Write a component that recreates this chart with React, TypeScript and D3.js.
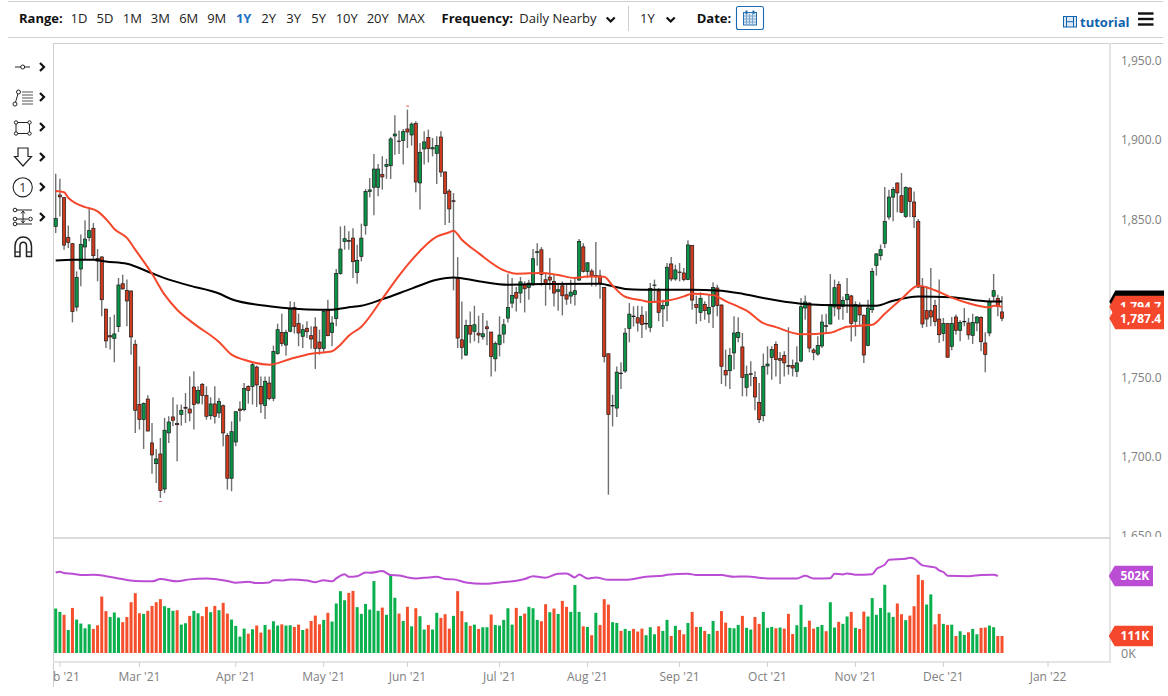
import React from "react";
import { scaleLinear, line, curveMonotoneX, format, max, min } from "d3";

const rangeLabels = ["1D", "5D", "1M", "3M", "6M", "9M", "1Y", "2Y", "3Y", "5Y", "10Y", "20Y", "MAX"];
const priceTicks = [1950, 1900, 1850, 1800, 1750, 1700, 1650];
const monthLabels = ["Feb '21", "Mar '21", "Apr '21", "May '21", "Jun '21", "Jul '21", "Aug '21", "Sep '21", "Oct '21", "Nov '21", "Dec '21", "Jan '22"];
const monthIndex = [1, 20, 43, 64, 84, 106, 127, 149, 170, 191, 212, 237];

const opens = [
  1845.4,1865.2,1863.5,1838.5,1834.5,1794.5,1818.5,1832.4,1838.3,1844.2,
  1825.2,1826.1,1793.2,1776.4,1774.7,1782.1,1809.2,1805.0,1804.6,1771.0,
  1732.9,1723.4,1736.4,1708.7,1695.6,1701.7,1679.6,1715.0,1725.1,1720.9,
  1726.6,1731.2,1730.1,1744.0,1733.9,1745.7,1738.6,1725.9,1733.3,1727.6,
  1732.2,1713.3,1686.4,1709.3,1730.1,1729.7,1744.4,1744.4,1756.6,1744.4,
  1732.4,1746.5,1736.9,1765.1,1778.5,1770.5,1779.2,1794.3,1784.0,1776.0,
  1781.1,1776.4,1781.9,1772.4,1768.4,1792.8,1778.5,1787.2,1815.6,1835.8,
  1836.4,1838.0,1816.3,1826.4,1845.9,1867.5,1870.1,1870.1,1878.1,1883.3,
  1883.7,1902.5,1899.3,1899.7,1906.9,1903.1,1910.3,1872.8,1894.3,1901.6,
  1894.3,1891.5,1901.8,1879.7,1867.7,1861.6,1812.3,1773.8,1764.2,1782.9,
  1779.1,1778.0,1775.7,1782.0,1778.7,1761.8,1770.9,1777.4,1787.5,1797.0,
  1803.7,1803.3,1808.5,1806.9,1808.5,1829.0,1830.6,1811.7,1813.4,1810.7,
  1804.3,1807.9,1802.2,1801.4,1802.4,1811.5,1832.5,1817.0,1817.2,1814.4,
  1814.2,1806.9,1765.0,1732.0,1730.7,1752.8,1754.1,1781.0,1788.8,1787.7,
  1789.3,1783.8,1781.7,1808.0,1804.6,1793.3,1795.4,1821.7,1812.2,1816.6,
  1816.0,1811.8,1833.4,1796.0,1791.1,1796.2,1790.1,1794.9,1806.5,1795.8,
  1754.5,1754.3,1765.5,1775.2,1769.3,1743.8,1752.4,1750.1,1734.3,1725.9,
  1757.3,1762.7,1770.9,1761.9,1764.0,1757.5,1757.5,1753.9,1760.4,1793.9,
  1797.0,1767.4,1764.8,1769.9,1782.7,1783.8,1794.5,1808.8,1794.9,1799.1,
  1801.5,1785.5,1795.1,1789.3,1770.3,1792.8,1820.8,1826.9,1834.7,1851.3,
  1863.9,1872.8,1864.8,1851.7,1869.6,1860.8,1848.4,1806.9,1792.2,1792.2,
  1795.4,1786.9,1777.7,1784.0,1769.7,1788.2,1779.8,1785.1,1784.4,1776.6,
  1784.4,1787.8,1771.8,1778.1,1801.3,1800.0,1791.4,
];
const closes = [
  1850.3,1864.0,1833.6,1835.3,1791.6,1813.2,1834.1,1837.4,1842.7,1826.9,
  1823.5,1799.1,1773.1,1775.6,1777.5,1808.4,1805.9,1798.3,1775.6,1729.3,
  1723.4,1733.5,1716.2,1701.1,1698.6,1678.6,1716.7,1721.9,1723.0,1720.2,
  1729.3,1730.6,1727.6,1732.9,1741.7,1738.6,1725.5,1733.3,1725.5,1734.8,
  1715.0,1686.4,1715.8,1728.4,1729.1,1743.0,1741.9,1758.1,1745.3,1733.3,
  1747.6,1736.7,1766.5,1780.2,1771.4,1778.5,1793.2,1782.3,1778.1,1780.2,
  1778.9,1774.3,1768.4,1768.4,1791.8,1776.4,1784.4,1815.6,1831.1,1837.6,
  1836.0,1823.1,1823.9,1838.0,1867.5,1868.4,1881.6,1881.6,1876.6,1884.4,
  1900.6,1903.7,1898.9,1905.2,1905.0,1910.0,1873.4,1892.2,1898.7,1894.5,
  1895.1,1896.4,1879.7,1866.1,1856.4,1861.2,1774.9,1769.0,1782.9,1777.4,
  1783.3,1776.8,1777.6,1780.8,1763.3,1771.5,1776.8,1783.3,1794.2,1801.8,
  1800.1,1810.4,1806.0,1809.6,1825.0,1829.4,1815.1,1809.6,1811.5,1803.3,
  1805.4,1801.6,1799.5,1803.9,1804.8,1835.9,1817.0,1822.4,1814.2,1814.0,
  1809.6,1763.3,1726.7,1732.4,1753.4,1752.4,1778.0,1790.0,1788.4,1784.4,
  1783.4,1784.2,1806.3,1808.4,1791.1,1795.4,1819.6,1812.2,1817.9,1816.2,
  1811.8,1833.7,1798.9,1794.1,1800.0,1792.2,1794.3,1806.9,1795.4,1757.1,
  1751.6,1763.8,1778.1,1778.5,1750.1,1751.8,1752.0,1737.7,1723.4,1757.1,
  1758.5,1767.6,1761.3,1760.9,1759.2,1757.0,1756.0,1759.2,1794.7,1797.7,
  1768.6,1765.7,1770.3,1785.0,1782.3,1796.0,1806.7,1793.3,1798.7,1802.5,
  1784.2,1796.0,1789.5,1764.2,1793.9,1817.0,1828.0,1830.7,1848.4,1863.9,
  1868.6,1866.5,1854.3,1870.0,1861.2,1851.5,1807.1,1783.8,1786.9,1788.2,
  1785.3,1777.0,1784.0,1762.8,1784.0,1779.8,1784.8,1785.5,1776.9,1784.8,
  1788.2,1772.6,1764.6,1798.1,1804.8,1794.9,1787.4,
];
const highs = [
  1878.7,1875.5,1863.9,1845.9,1834.9,1817.0,1840.2,1849.2,1856.4,1847.5,
  1831.1,1826.5,1793.2,1788.2,1789.7,1812.8,1814.9,1811.8,1805.0,1773.9,
  1757.1,1734.3,1738.8,1721.3,1704.9,1711.8,1724.5,1725.5,1737.5,1732.9,
  1732.9,1740.2,1750.7,1753.9,1744.4,1746.5,1744.4,1737.5,1744.4,1737.1,
  1732.9,1715.0,1722.3,1728.7,1735.0,1746.5,1745.1,1759.2,1757.5,1750.7,
  1750.7,1750.7,1770.1,1784.0,1790.3,1780.2,1798.1,1797.7,1790.3,1783.4,
  1785.5,1782.3,1788.0,1780.2,1793.2,1799.1,1788.6,1818.5,1845.4,1845.9,
  1842.3,1844.3,1833.8,1847.1,1869.0,1876.0,1891.1,1884.8,1889.6,1888.0,
  1901.8,1915.5,1906.0,1906.9,1919.1,1911.1,1911.7,1898.0,1905.4,1906.5,
  1901.2,1902.3,1905.4,1880.2,1869.0,1866.5,1826.0,1798.0,1786.5,1791.7,
  1795.3,1789.0,1790.7,1786.0,1778.7,1772.8,1788.6,1786.9,1815.5,1812.8,
  1807.1,1813.4,1810.7,1811.7,1831.1,1834.8,1832.3,1815.9,1825.4,1814.9,
  1809.2,1810.7,1808.5,1811.7,1812.8,1837.4,1834.8,1822.9,1818.6,1835.5,
  1818.0,1806.9,1765.0,1739.1,1757.0,1759.7,1781.2,1797.0,1794.9,1795.3,
  1795.0,1791.8,1809.7,1811.8,1806.5,1799.1,1822.3,1826.1,1821.2,1822.3,
  1819.1,1836.6,1833.4,1801.7,1803.8,1798.1,1802.3,1810.1,1808.6,1796.0,
  1767.6,1768.6,1788.6,1788.0,1778.1,1757.5,1760.2,1753.9,1746.5,1765.1,
  1769.7,1769.7,1772.8,1765.9,1766.5,1781.7,1761.3,1769.7,1800.2,1801.7,
  1797.5,1768.6,1776.0,1789.7,1790.3,1815.3,1811.8,1810.7,1801.2,1812.8,
  1802.3,1798.1,1797.5,1789.7,1799.1,1819.1,1828.6,1833.9,1870.3,1868.6,
  1870.3,1873.2,1879.1,1870.7,1870.3,1867.5,1850.1,1812.8,1807.6,1819.1,
  1799.1,1811.8,1787.6,1784.4,1788.2,1789.7,1786.1,1793.9,1787.6,1790.3,
  1788.6,1788.6,1778.5,1800.2,1815.4,1802.3,1801.3,
];
const lows = [
  1841.2,1851.7,1830.7,1831.8,1784.8,1791.8,1807.6,1824.4,1836.0,1824.8,
  1810.7,1788.6,1768.6,1767.6,1759.6,1778.7,1805.5,1782.3,1764.4,1715.0,
  1717.1,1704.9,1716.0,1689.3,1683.4,1673.9,1677.1,1708.7,1719.2,1697.1,
  1719.6,1721.3,1722.3,1717.1,1732.9,1732.9,1723.4,1723.4,1720.9,1724.5,
  1706.6,1679.2,1678.2,1706.6,1722.3,1728.7,1733.5,1732.9,1731.4,1727.6,
  1723.8,1735.6,1735.0,1764.4,1769.7,1763.8,1778.5,1777.7,1769.7,1768.6,
  1775.0,1768.2,1755.4,1764.4,1765.5,1776.0,1769.7,1782.3,1814.9,1830.7,
  1830.7,1812.8,1809.2,1823.3,1840.2,1863.8,1852.4,1864.4,1868.6,1875.5,
  1875.3,1890.7,1891.1,1884.4,1894.9,1896.4,1866.9,1856.0,1884.4,1885.8,
  1889.6,1872.2,1876.6,1846.3,1847.6,1805.0,1768.6,1761.6,1763.7,1771.7,
  1772.8,1771.7,1773.8,1770.3,1750.7,1753.8,1763.3,1771.7,1784.8,1793.8,
  1791.7,1797.0,1791.1,1799.1,1807.9,1820.5,1807.9,1795.3,1805.4,1794.9,
  1792.1,1789.2,1795.9,1796.6,1795.5,1811.1,1816.3,1812.8,1807.5,1807.5,
  1799.7,1759.5,1676.0,1719.1,1725.0,1742.7,1752.8,1772.2,1782.2,1779.1,
  1775.0,1780.2,1778.5,1797.0,1785.5,1781.9,1785.5,1810.7,1811.1,1810.7,
  1810.7,1811.4,1792.8,1783.8,1785.5,1786.5,1784.4,1781.3,1788.6,1745.9,
  1744.4,1742.8,1755.0,1772.2,1738.1,1738.1,1744.4,1729.3,1721.3,1722.3,
  1751.8,1748.6,1750.7,1745.9,1750.7,1751.8,1750.7,1750.3,1759.6,1786.5,
  1765.9,1760.9,1763.8,1768.6,1778.1,1783.4,1788.6,1786.5,1786.5,1790.7,
  1772.8,1776.0,1782.7,1759.2,1769.7,1790.7,1814.3,1824.0,1831.8,1849.6,
  1848.6,1854.3,1853.8,1850.7,1851.3,1844.4,1806.5,1781.3,1781.9,1782.3,
  1782.3,1771.8,1772.9,1762.3,1767.2,1777.1,1772.9,1782.3,1773.9,1771.2,
  1779.2,1766.5,1753.3,1776.0,1798.1,1788.6,1785.5,
];

// volume in thousands, read bar by bar
const volumes = [
  290,268,249,150,294,218,192,161,187,157,181,368,273,235,264,231,201,235,331,390,
  259,255,275,307,331,351,305,294,275,279,185,194,242,275,259,240,301,266,307,279,
  327,257,218,177,107,159,126,155,179,133,183,153,207,179,187,179,181,170,185,150,
  159,209,244,187,216,262,205,323,403,344,392,405,299,255,320,283,469,275,296,249,
  510,360,257,
  209,301,174,292,240,153,183,153,262,229,253,159,242,403,273,201,177,185,157,168,
  168,251,183,179,216,292,185,294,242,257,301,292,216,207,318,266,290,255,340,301,
  268,443,268,174,170,116,262,183,351,316,201,196,144,157,144,157,140,159,116,168,
  122,174,144,216,111,177,150,122,196,268,170,170,144,124,209,144,273,198,164,161,
  183,242,164,153,235,190,268,164,170,161,166,159,255,124,181,
  314,170,211,159,170,183,142,331,166,203,190,238,268,164,157,270,238,358,249,294,
  445,264,235,323,253,214,244,305,510,475,316,382,187,255,190,183,185,111,142,118,
  135,157,122,164,166,179,168,111,111,
];
// 1 = green bar, 0 = red bar
const volumeUp = [
  1,1,0,1,0,1,1,1,1,0,0,0,0,1,1,1,0,0,0,0,
  0,1,0,0,0,0,1,1,1,0,1,1,0,1,1,0,0,1,0,1,
  0,0,1,1,1,1,0,1,0,0,1,0,1,1,0,1,1,0,0,1,
  0,0,0,0,1,0,1,1,1,1,0,0,1,1,1,1,1,1,0,1,
  1,1,0,
  1,0,1,0,1,1,0,1,1,0,0,0,1,0,0,1,0,1,0,1,
  1,0,1,1,1,1,1,0,1,0,1,1,1,0,0,1,0,1,0,0,
  1,1,1,0,1,0,1,0,0,0,1,1,0,1,1,0,0,0,1,1,
  1,0,1,1,0,1,0,0,1,0,0,1,0,1,1,0,0,0,1,1,
  1,0,1,1,0,0,1,1,1,0,1,0,0,0,1,
  1,1,0,0,1,1,0,1,1,0,1,1,0,1,0,0,1,1,1,1,
  1,1,1,0,0,1,0,0,0,0,1,1,0,0,1,0,1,0,1,1,
  0,1,1,0,0,1,1,0,0,
];

const redMaIndex = [0,2,3,5,7,10,12,14,17,19,23,26,29,33,39,42,45,51,56,61,66,68,70,73,78,82,85,91,94,95,97,101,107,110,116,120,124,127,131,133,136,140,142,146,150,152,157,160,163,165,169,172,178,185,189,195,198,202,206,210,214,218,223,224,226];
const redMa = [1867.7,1866.9,1863.5,1859.7,1857.6,1854.9,1850.1,1843.8,1838.1,1830.7,1815.5,1802.3,1792.8,1784,1772.4,1764.4,1761.2,1758.1,1761.7,1765,1766.6,1770.7,1776.4,1782.1,1799.7,1814.3,1824.1,1838.9,1841.7,1842.7,1837,1828.5,1817.7,1815.5,1816,1814.7,1812.8,1813.8,1813.6,1808,1801,1798.7,1797.7,1798.5,1801.2,1802.9,1802,1798.2,1794.7,1792.2,1784.3,1781.8,1777.3,1778.3,1782.1,1783.3,1790.3,1799.6,1808,1805.1,1800.4,1796.9,1794.3,1795.3,1794.7];
const blackMaIndex = [0,4,9,12,17,23,26,32,39,42,51,63,66,70,73,78,85,91,95,101,108,116,130,133,136,140,152,158,164,169,178,183,196,200,206,214,223,226];
const blackMa = [1823.9,1824.4,1824.4,1823.2,1821.8,1815.8,1812.7,1808,1803,1799.4,1795,1792.8,1792.8,1794.3,1795.3,1799.4,1806.1,1811.7,1813.2,1810.8,1808.6,1809,1809.2,1807.6,1805.9,1805.4,1805.4,1805,1802.9,1800.2,1796.6,1795.8,1795.3,1798.5,1801.2,1800.6,1798,1798];
const volumeMaIndex = [0,1,2,4,6,9,12,15,19,23,25,29,32,36,41,43,46,48,51,52,54,56,60,62,64,66,67,69,70,72,74,75,78,80,82,84,86,89,91,93,95,98,102,106,110,112,114,117,120,122,124,125,127,129,132,136,141,145,146,151,153,159,162,165,170,177,179,181,185,186,188,189,191,195,196,198,199,203,204,205,207,210,211,212,213,218,221,224,225];
const volumeMa = [525,530,521,517,508,510,501,486,469,467,482,467,480,486,469,458,464,456,460,475,473,480,473,462,475,467,486,514,497,501,525,523,534,508,506,493,486,493,497,482,480,460,451,460,471,482,501,491,517,519,493,512,486,493,477,477,497,504,510,517,508,508,497,499,486,486,504,486,488,517,512,519,510,514,547,576,608,615,621,615,571,558,538,528,504,501,508,510,502];

const lastPrice = 1787.4;
const lastRedMa = 1794.7;
const lastBlackMa = 1798;
const lastVolume = 111;
const lastVolumeMa = 502;

const FONT = "'Open Sans', sans-serif";
const GREEN = "#0b9447";
const RED = "#cf3a1d";
const VOL_GREEN = "#0bb04e";
const VOL_RED = "#f5502e";
const LINE_RED = "#f4472b";
const PURPLE = "#bb4dd4";
const BLUE = "#0f63ad";
const GRID = "#cfcfcf";
const AXIS = "#e4e4e4";
const EDGE = 1163;

const xScale = scaleLinear().domain([0, 226]).range([55.7, 1002]);
const yScale = scaleLinear().domain([1650, 1950]).range([535.9, 60.7]);
const volScale = scaleLinear().domain([0, 502]).range([653, 576]);
const priceFmt = format(",.1f");

const maPath = (idx: number[], vals: number[], y: (v: number) => number) =>
  line<number>()
    .x((_, i) => xScale(idx[i]))
    .y((d) => y(d))
    .curve(curveMonotoneX)(vals) as string;

const Tag = ({ y, color, left, right, h, label }: any) => (
  <g>
    <polygon
      points={`${left},${y} ${left + 6},${y - h / 2} ${right},${y - h / 2} ${right},${y + h / 2} ${left + 6},${y + h / 2}`}
      fill={color}
    />
    {label && (
      <text x={(left + 6 + right) / 2 + 1} y={y + 4.3} fill="#fff" fontSize={12} fontWeight={700} textAnchor="middle">
        {label}
      </text>
    )}
  </g>
);

const Chevron = ({ x, y }: { x: number; y: number }) => (
  <path d={`M${x - 4},${y - 2.5} L${x},${y + 1.5} L${x + 4},${y - 2.5}`} fill="none" stroke="#111" strokeWidth={2.2} />
);

const Side = ({ y }: { y: number }) => (
  <path d={`M40,${y - 4} L44,${y} L40,${y + 4}`} fill="none" stroke="#111" strokeWidth={2.2} />
);

const Tools = () => {
  const s = { fill: "none", stroke: "#222", strokeWidth: 1 };
  return (
    <g>
      <line x1={15} x2={30} y1={67} y2={67} {...s} />
      <circle cx={22.7} cy={67} r={2} fill="#fff" stroke="#222" />
      <Side y={67} />

      <line x1={15} y1={104} x2={18.5} y2={92} {...s} />
      <circle cx={18.5} cy={92} r={2} fill="#fff" stroke="#222" />
      <circle cx={15} cy={104} r={2} fill="#fff" stroke="#222" />
      {[92, 95, 98, 101, 104].map((y) => (
        <line key={y} x1={22} x2={33} y1={y} y2={y} stroke="#555" />
      ))}
      <Side y={97} />

      <rect x={16} y={122.5} width={13.5} height={11} {...s} />
      {[[16, 122.5], [29.5, 122.5], [16, 133.5], [29.5, 133.5]].map(([cx, cy]) => (
        <circle key={`${cx}${cy}`} cx={cx} cy={cy} r={1.7} fill="#fff" stroke="#222" />
      ))}
      <Side y={127} />

      <path d="M18,148 L28,148 L28,156.5 L31.5,156.5 L23,166 L14.5,156.5 L18,156.5 Z" fill="#fff" stroke="#222" strokeWidth={1.2} />
      <Side y={157} />

      <circle cx={22.7} cy={187.3} r={9.6} fill="#fff" stroke="#222" strokeWidth={1.1} />
      <text x={22.7} y={192} textAnchor="middle" fontSize={13} fill="#333" fontFamily={FONT}>1</text>
      <Side y={187} />

      <line x1={16} x2={32} y1={210} y2={210} {...s} />
      <line x1={16} x2={28} y1={219} y2={219} {...s} />
      <line x1={13} x2={32} y1={224} y2={224} {...s} />
      <line x1={23} x2={23} y1={212} y2={222} stroke="#222" />
      <path d="M21,213.5 L23,211 L25,213.5 M21,220.5 L23,223 L25,220.5" {...s} />
      {[[15, 210], [15, 219], [15, 224], [30.5, 219]].map(([cx, cy]) => (
        <circle key={`${cx}${cy}`} cx={cx} cy={cy} r={1.8} fill="#fff" stroke="#222" />
      ))}
      <Side y={217} />

      <path
        d="M15,256.5 L15,246 C15,234 31.5,234 31.5,246 L31.5,256.5 L26.5,256.5 L26.5,246 C26.5,241 20,241 20,246 L20,256.5 Z"
        fill="#fff"
        stroke="#222"
        strokeWidth={1.5}
      />
      <line x1={15} x2={20} y1={252} y2={252} stroke="#222" strokeWidth={1.2} />
      <line x1={26.5} x2={31.5} y1={252} y2={252} stroke="#222" strokeWidth={1.2} />
    </g>
  );
};

const Toolbar = () => {
  const centers = [79, 105, 132.3, 160.3, 188.7, 216.7, 243.7, 268.7, 293.7, 318.7, 346.7, 377.7, 411];
  return (
    <g fontFamily={FONT} fontSize={13} fill="#222">
      <text x={19} y={22.5} fontWeight={700} fill="#111">Range:</text>
      {rangeLabels.map((d, i) => (
        <text
          key={d}
          x={centers[i]}
          y={22.5}
          textAnchor="middle"
          fill={d === "1Y" ? "#1e72c4" : "#222"}
          fontWeight={d === "1Y" ? 700 : 400}
        >
          {d}
        </text>
      ))}
      <text x={441.5} y={22.5} fontWeight={700} fill="#111">Frequency:</text>
      <text x={519.3} y={22.5}>Daily Nearby</text>
      <Chevron x={610.7} y={20} />
      <line x1={628.5} x2={628.5} y1={6} y2={31} stroke={GRID} />
      <text x={640} y={22.5}>1Y</text>
      <Chevron x={670.7} y={20} />
      <text x={696.7} y={22.5} fontWeight={700} fill="#111">Date:</text>
      <rect x={736.5} y={6.5} width={27} height={23} rx={2} fill="#fff" stroke="#1a69b3" strokeWidth={1.1} />
      <rect x={743.5} y={12.5} width={13} height={12.5} fill="#dbe8f4" stroke="#2a6fb0" />
      {[746.5, 749.5, 752.5].map((x) => (
        <line key={x} x1={x} x2={x} y1={14} y2={25} stroke="#7ba6cf" />
      ))}
      {[16, 19, 22].map((y) => (
        <line key={y} x1={744} x2={756} y1={y} y2={y} stroke="#7ba6cf" />
      ))}
      <rect x={745.5} y={10.5} width={2} height={3.5} fill="#2a6fb0" />
      <rect x={752.5} y={10.5} width={2} height={3.5} fill="#2a6fb0" />

      <rect x={1063.5} y={16.5} width={13} height={10.5} fill="#dceaf6" stroke={BLUE} />
      <line x1={1066.5} x2={1066.5} y1={16.5} y2={27} stroke={BLUE} />
      <line x1={1073.5} x2={1073.5} y1={16.5} y2={27} stroke={BLUE} />
      <line x1={1066.5} x2={1073.5} y1={21.7} y2={21.7} stroke={BLUE} />
      <text x={1080} y={27} fontWeight={700} fill={BLUE}>tutorial</text>
      {[13.5, 19, 24.5].map((y) => (
        <rect key={y} x={1138} y={y - 1.2} width={15.5} height={2.4} fill="#111" />
      ))}
    </g>
  );
};

const App = () => {
  const hiIdx = highs.indexOf(max(highs) as number);
  const loIdx = lows.indexOf(min(lows) as number);

  return (
    <svg
      width={1168}
      height={696}
      style={{ position: "absolute", left: 0, top: 0, background: "#fff", fontFamily: FONT }}
    >
      <defs>
        <clipPath id="axisClip">
          <rect x={1112} y={44} width={56} height={493} />
        </clipPath>
        <clipPath id="monthClip">
          <rect x={53} y={664} width={1060} height={30} />
        </clipPath>
      </defs>

      {/* frame */}
      <line x1={8} x2={EDGE} y1={1.5} y2={1.5} stroke={GRID} />
      <line x1={8} x2={EDGE} y1={37.5} y2={37.5} stroke={GRID} />
      <line x1={53} x2={EDGE} y1={43.5} y2={43.5} stroke={GRID} />
      <line x1={53.5} x2={53.5} y1={43} y2={687} stroke={GRID} />
      <line x1={1110} x2={1110} y1={43} y2={663} stroke={AXIS} strokeWidth={2} />
      <line x1={53} x2={1110} y1={538} y2={538} stroke={GRID} strokeWidth={1.5} />
      <line x1={53} x2={1110} y1={662} y2={662} stroke={AXIS} strokeWidth={2} />

      <Toolbar />
      <Tools />

      {/* price axis */}
      <g clipPath="url(#axisClip)">
        {priceTicks.map((d) => (
          <text key={d} x={1121} y={yScale(d) + 4.5} fontSize={12} fill="#808080">
            {priceFmt(d)}
          </text>
        ))}
      </g>

      {/* month axis */}
      {monthIndex.map((d) => (
        <line key={d} x1={xScale(d)} x2={xScale(d)} y1={662} y2={667} stroke={GRID} />
      ))}
      <g clipPath="url(#monthClip)">
        {monthLabels.map((d, i) => (
          <text key={d} x={xScale(monthIndex[i])} y={681} fontSize={12} fill="#808080" textAnchor="middle">
            {d}
          </text>
        ))}
      </g>

      {/* candles */}
      <g>
        {opens.map((o, i) => {
          const c = closes[i];
          const x = xScale(i);
          const top = yScale(Math.max(o, c));
          const bot = yScale(Math.min(o, c));
          return (
            <g key={i}>
              <line x1={x} x2={x} y1={yScale(highs[i])} y2={yScale(lows[i])} stroke="#707070" strokeWidth={1.4} />
              <rect
                x={x - 1.6}
                y={top}
                width={3.2}
                height={Math.max(bot - top, 0.6)}
                fill={c >= o ? GREEN : RED}
                stroke="#1a1a1a"
                strokeWidth={0.7}
              />
            </g>
          );
        })}
      </g>

      {/* moving averages */}
      <path d={maPath(blackMaIndex, blackMa, yScale)} fill="none" stroke="#000" strokeWidth={2} />
      <path d={maPath(redMaIndex, redMa, yScale)} fill="none" stroke={LINE_RED} strokeWidth={2} />

      {/* clipped high/low flags */}
      <line x1={xScale(hiIdx) - 1} x2={xScale(hiIdx) + 1.5} y1={yScale(highs[hiIdx]) - 3.8} y2={yScale(highs[hiIdx]) - 3.3} stroke={LINE_RED} />
      <line x1={xScale(loIdx) - 1.5} x2={xScale(loIdx) + 1.5} y1={yScale(lows[loIdx]) + 3.5} y2={yScale(lows[loIdx]) + 3.5} stroke="#e0609a" />

      {/* volume */}
      <g>
        {volumes.map((v, i) => (
          <rect
            key={i}
            x={xScale(i) - 1.5}
            y={volScale(v)}
            width={3}
            height={volScale(0) - volScale(v)}
            fill={volumeUp[i] ? VOL_GREEN : VOL_RED}
          />
        ))}
      </g>
      <path d={maPath(volumeMaIndex, volumeMa, volScale)} fill="none" stroke={PURPLE} strokeWidth={2} />

      {/* last value tags */}
      <Tag y={yScale(lastBlackMa)} color="#000" left={1109.3} right={1164} h={22} />
      <Tag y={yScale(lastRedMa)} color={LINE_RED} left={1109.3} right={1164} h={22} label={priceFmt(lastRedMa)} />
      <Tag y={yScale(lastPrice)} color={LINE_RED} left={1109.3} right={1164} h={22} label={priceFmt(lastPrice)} />
      <Tag y={volScale(lastVolumeMa)} color={PURPLE} left={1108.7} right={1153} h={20.5} label={`${lastVolumeMa}K`} />
      <Tag y={volScale(lastVolume)} color={LINE_RED} left={1108.7} right={1153} h={20.5} label={`${lastVolume}K`} />
      <text x={1121} y={657.5} fontSize={12.5} fill="#808080">0K</text>
    </svg>
  );
};

export default App;
